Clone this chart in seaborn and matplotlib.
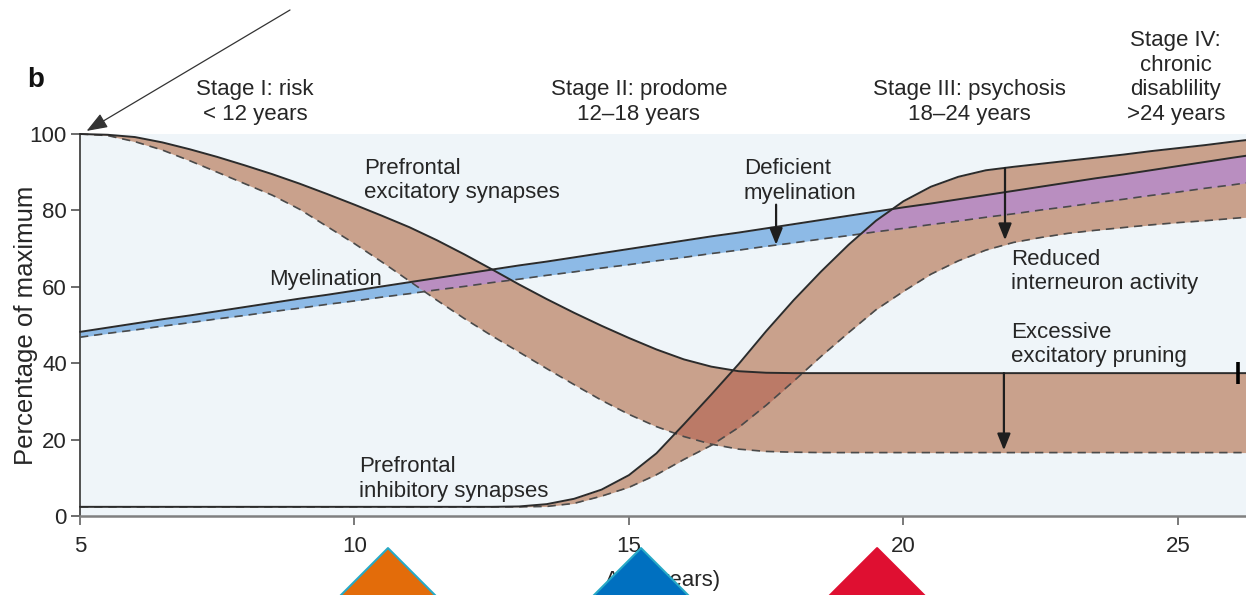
import numpy as np
import pandas as pd
import matplotlib
matplotlib.use("Agg")
import matplotlib.pyplot as plt
import seaborn as sns
from matplotlib.markers import MarkerStyle
from matplotlib.path import Path

# ---------------- data ----------------
age = [5.0, 5.5, 6.0, 6.5, 7.0, 7.5, 8.0, 8.5, 9.0, 9.5, 10.0, 10.5, 11.0, 11.5,
       12.0, 12.5, 13.0, 13.5, 14.0, 14.5, 15.0, 15.5, 16.0, 16.5, 17.0, 17.5,
       18.0, 18.5, 19.0, 19.5, 20.0, 20.5, 21.0, 21.5, 22.0, 22.5, 23.0, 23.5,
       24.0, 24.5, 25.0, 25.5, 26.0, 26.24]

# prefrontal excitatory synapses: normal (solid) / schizophrenia (dashed)
exc_hi = [100, 99.8, 99.2, 97.8, 96.0, 94.0, 91.8, 89.5, 87.0, 84.3, 81.5, 78.6,
          75.6, 72.2, 68.5, 64.6, 60.6, 56.8, 53.2, 49.8, 46.6, 43.6, 41.0, 39.1,
          37.9, 37.5, 37.4, 37.4, 37.4, 37.4, 37.4, 37.4, 37.4, 37.4, 37.4, 37.4,
          37.4, 37.4, 37.4, 37.4, 37.4, 37.4, 37.4, 37.4]
exc_lo = [100, 99.6, 98.0, 95.8, 93.0, 90.0, 87.0, 84.0, 80.3, 75.8, 71.3, 66.5,
          61.5, 56.5, 51.7, 47.2, 42.9, 38.6, 34.4, 30.3, 26.6, 23.4, 20.8, 18.8,
          17.5, 16.9, 16.7, 16.6, 16.6, 16.6, 16.6, 16.6, 16.6, 16.6, 16.6, 16.6,
          16.6, 16.6, 16.6, 16.6, 16.6, 16.6, 16.6, 16.6]

# prefrontal inhibitory synapses
inh_hi = [2.4, 2.4, 2.4, 2.4, 2.4, 2.4, 2.4, 2.4, 2.4, 2.4, 2.4, 2.4, 2.4, 2.4,
          2.4, 2.4, 2.5, 3.1, 4.5, 6.9, 10.7, 16.4, 24.0, 31.8, 39.8, 48.4,
          56.5, 64.0, 71.0, 77.3, 82.4, 86.2, 88.8, 90.5, 91.4, 92.2, 93.0, 93.8,
          94.6, 95.5, 96.3, 97.1, 98.0, 98.4]
inh_lo = [2.4, 2.4, 2.4, 2.4, 2.4, 2.4, 2.4, 2.4, 2.4, 2.4, 2.4, 2.4, 2.4, 2.4,
          2.4, 2.4, 2.4, 2.5, 3.3, 5.2, 7.5, 10.8, 14.8, 18.5, 23.2, 29.0,
          35.3, 41.8, 48.0, 54.0, 58.8, 63.3, 66.8, 69.6, 71.6, 72.9, 74.0, 74.8,
          75.5, 76.2, 76.8, 77.3, 77.9, 78.2]

# myelination
my_hi = [48.2, 49.3, 50.4, 51.5, 52.5, 53.6, 54.7, 55.8, 56.9, 57.9, 59.0, 60.1,
         61.2, 62.3, 63.4, 64.5, 65.6, 66.6, 67.7, 68.8, 69.9, 71.0, 72.1, 73.2,
         74.2, 75.3, 76.4, 77.5, 78.6, 79.7, 80.8, 81.8, 82.9, 84.0, 85.1, 86.2,
         87.3, 88.4, 89.4, 90.5, 91.6, 92.7, 93.8, 94.3]
my_lo = [46.8, 47.8, 48.7, 49.7, 50.6, 51.6, 52.5, 53.5, 54.4, 55.4, 56.3, 57.3,
         58.2, 59.2, 60.1, 61.1, 62.0, 63.0, 63.9, 64.9, 65.8, 66.8, 67.7, 68.7,
         69.6, 70.6, 71.5, 72.5, 73.4, 74.4, 75.3, 76.3, 77.2, 78.2, 79.1, 80.1,
         81.0, 82.0, 82.9, 83.9, 84.8, 85.8, 86.7, 87.2]

x_ticks = [5, 10, 15, 20, 25]
y_ticks = [0, 20, 40, 60, 80, 100]

stage_labels = ["Stage I: risk\n< 12 years", "Stage II: prodome\n12\u201318 years",
                "Stage III: psychosis\n18\u201324 years",
                "Stage IV:\nchronic\ndisablility\n>24 years"]
stage_x = [8.19, 15.18, 21.21, 24.96]

notes = ["Prefrontal\nexcitatory synapses", "Myelination", "Deficient\nmyelination",
         "Reduced\ninterneuron activity", "Excessive\nexcitatory pruning",
         "Prefrontal\ninhibitory synapses"]
notes_x = [10.17, 8.44, 17.09, 21.96, 21.96, 10.08]
notes_y = [83.2, 60.5, 83.0, 59.4, 40.3, 5.0]

# deficit arrows: x, start, tip
arrow_x = [17.68, 21.85, 21.83]
arrow_from = [81.5, 91.1, 37.4]
arrow_to = [71.0, 72.2, 17.2]

# marker triangles under the axis
tri_x = [10.61, 15.22, 19.52]
tri_y = [-8.4, -8.4, -8.4]
tri_colors = ["#e36c0a", "#0070c0", "#df0f31"]
tri_edges = ["#27a9c6", "#27a9c6", "#df0f31"]

# ---------------- style ----------------
BG = "#eff5f9"
BLUE = "#8dbae6"
BROWN = "#c9a18c"
PURPLE = "#b98ec0"
DARK = "#bb7a67"
LINE = "#2b2b2b"
DASH = "#4a4a4a"
TXT = "#262626"
FS = 16
LS = 1.22

sns.set_style("ticks")
plt.rcParams["font.family"] = ["Liberation Sans", "DejaVu Sans"]
plt.rcParams["text.color"] = TXT
plt.rcParams["xtick.color"] = "#555555"
plt.rcParams["ytick.color"] = "#444444"
plt.rcParams["xtick.labelcolor"] = TXT
plt.rcParams["ytick.labelcolor"] = TXT

fig = plt.figure(figsize=(12.46, 5.95), dpi=100)
ax = fig.add_axes([80 / 1246, 79 / 595, 1166 / 1246, 382 / 595])
ax.set_facecolor(BG)

df = pd.DataFrame({"age": age, "exc_hi": exc_hi, "exc_lo": exc_lo,
                   "inh_hi": inh_hi, "inh_lo": inh_lo,
                   "my_hi": my_hi, "my_lo": my_lo})

# bands
ax.fill_between(df.age, df.my_lo, df.my_hi, color=BLUE, lw=0, zorder=1)
f_exc = ax.fill_between(df.age, df.exc_lo, df.exc_hi, color=BROWN, lw=0, zorder=2)
f_inh = ax.fill_between(df.age, df.inh_lo, df.inh_hi, color=BROWN, lw=0, zorder=2)
exc_path = f_exc.get_paths()[0]
inh_path = f_inh.get_paths()[0]

# overlaps
p1 = ax.fill_between(df.age, df.my_lo, df.my_hi, color=PURPLE, lw=0, zorder=3)
p1.set_clip_path(exc_path, ax.transData)
p2 = ax.fill_between(df.age, df.my_lo, df.my_hi, color=PURPLE, lw=0, zorder=3)
p2.set_clip_path(inh_path, ax.transData)
d1 = ax.fill_between(df.age, df.inh_lo, df.inh_hi, color=DARK, lw=0, zorder=3)
d1.set_clip_path(exc_path, ax.transData)

# lines
for col, solid in [("my_lo", False), ("exc_lo", False), ("inh_lo", False),
                   ("my_hi", True), ("exc_hi", True), ("inh_hi", True)]:
    sns.lineplot(data=df, x="age", y=col, ax=ax, estimator=None, sort=False,
                 color=LINE if solid else DASH, lw=1.4 if solid else 1.2,
                 legend=False, zorder=6 if solid else 5)
    ln = ax.lines[-1]
    ln.set_clip_on(False)
    ln.set_solid_joinstyle("round")
    if not solid:
        ln.set_dashes((5, 3.5))

# deficit arrows
for x, y0, y1 in zip(arrow_x, arrow_from, arrow_to):
    ax.annotate("", xy=(x, y1), xytext=(x, y0),
                arrowprops=dict(arrowstyle="-|>,head_length=0.55,head_width=0.22",
                                color="#1e1e1e", lw=1.6, mutation_scale=18,
                                shrinkA=0, shrinkB=0), zorder=8)

# end tick on plateau
ax.vlines([26.1], [34.6], [40.3], color="black", lw=2.6, zorder=8, clip_on=False)

# notes
for t, x, y in zip(notes, notes_x, notes_y):
    ax.text(x, y, t, fontsize=FS, ha="left", va="baseline", linespacing=LS,
            zorder=9, color=TXT)

# stage labels
for t, x in zip(stage_labels, stage_x):
    ax.text(x, 103.7, t, fontsize=FS, ha="center", va="baseline",
            multialignment="center", linespacing=LS, clip_on=False, color=TXT)

# pointer arrow at top-left
ax.annotate("", xy=(5.12, 100.8), xytext=(290 / 1246, 1 - 10 / 595),
            textcoords="figure fraction", annotation_clip=False,
            arrowprops=dict(arrowstyle="-|>,head_length=0.8,head_width=0.3",
                            color="#333333", lw=0.9, mutation_scale=16,
                            shrinkA=0, shrinkB=0))

fig.text(27 / 1246, 1 - 87 / 595, "b", fontsize=20, fontweight="bold",
         ha="left", va="baseline", color="#111111")

# axes
ax.set_xlim(age[0], age[-1])
ax.set_ylim(0, 100)
ax.set_xticks(x_ticks)
ax.set_yticks(y_ticks)
ax.tick_params(axis="both", labelsize=FS, length=6.5, width=1.1, direction="out")
ax.tick_params(axis="y", pad=3)
ax.tick_params(axis="x", pad=8)
sns.despine(ax=ax, top=True, right=True)
ax.spines["left"].set_color("#444444")
ax.spines["left"].set_linewidth(1.3)
ax.spines["bottom"].set_color("#808080")
ax.spines["bottom"].set_linewidth(1.8)
ax.set_xlabel("Age (years)", fontsize=FS, labelpad=9, color=TXT)
ax.set_ylabel("Percentage of maximum", fontsize=18.5, labelpad=-6, color=TXT)

# coloured triangles
tri = MarkerStyle(Path([(0, 0), (-1, -1), (1, -1), (0, 0)], closed=True))
ax.scatter(tri_x, tri_y, marker=tri, s=7500, c=tri_colors, edgecolors=tri_edges,
           linewidths=1.5, clip_on=False, zorder=20)

fig.savefig("out.png", dpi=100, facecolor="white")
